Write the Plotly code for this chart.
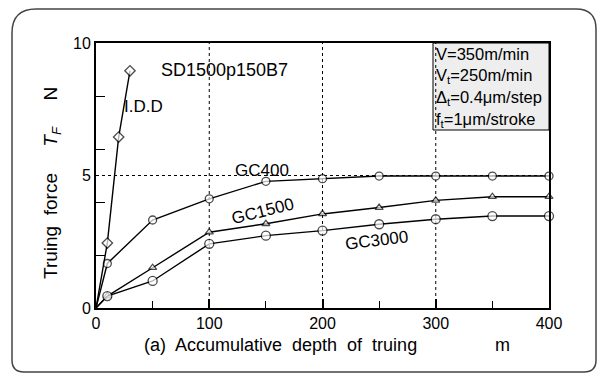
import plotly.graph_objects as go

# data
sd_x = [0, 10, 20, 30]
sd_y = [0, 2.45, 6.45, 8.95]
gc400_x = [0, 10, 50, 100, 150, 200, 250, 300, 350, 400]
gc400_y = [0, 1.68, 3.32, 4.12, 4.78, 4.88, 4.98, 4.98, 4.98, 4.98]
gc1500_x = [0, 10, 50, 100, 150, 200, 250, 300, 350, 400]
gc1500_y = [0, 0.45, 1.52, 2.86, 3.18, 3.55, 3.79, 4.06, 4.2, 4.2]
gc3000_x = [0, 10, 50, 100, 150, 200, 250, 300, 350, 400]
gc3000_y = [0, 0.45, 1.02, 2.42, 2.73, 2.92, 3.16, 3.35, 3.47, 3.47]
info_lines = ["V=350m/min", "V<sub>t</sub>=250m/min",
              "Δ<sub>t</sub>=0.4μm/step", "f<sub>t</sub>=1μm/stroke"]

FONT = "Liberation Sans, Arial, sans-serif"

fig = go.Figure()

def add(x, y, sym, size, name):
    sizes = [0] + [size] * (len(x) - 1)  # no marker at origin
    fig.add_trace(go.Scatter(
        x=x, y=y, mode="lines+markers", name=name,
        line=dict(color="black", width=1.4),
        marker=dict(symbol=sym, size=sizes, color="white",
                    line=dict(color="black", width=1.3)),
        showlegend=False, cliponaxis=False))

add(gc1500_x, gc1500_y, "triangle-up", 7, "GC1500")
add(gc3000_x, gc3000_y, "circle", 9, "GC3000")
add(gc400_x, gc400_y, "circle", 8, "GC400")
add(sd_x, sd_y, "diamond", 8, "SD1500p150B7")

W, H = 605, 377
L, R, T, B = 96, 56, 43, 69
pw, ph = W - L - R, H - T - B

def px(xp):
    return (xp - L) / pw

def py(yp):
    return (H - B - yp) / ph

# rounded outer frame
x0, x1, y0, y1 = 12, 596, 9, 372
rtl, rtr, rb = 24, 20, 12
path = (f"M {px(x0)},{py(y0 + rtl)} Q {px(x0)},{py(y0)} {px(x0 + rtl)},{py(y0)} "
        f"L {px(x1 - rtr)},{py(y0)} Q {px(x1)},{py(y0)} {px(x1)},{py(y0 + rtr)} "
        f"L {px(x1)},{py(y1 - rb)} Q {px(x1)},{py(y1)} {px(x1 - rb)},{py(y1)} "
        f"L {px(x0 + rb)},{py(y1)} Q {px(x0)},{py(y1)} {px(x0)},{py(y1 - rb)} Z")

shapes = [
    dict(type="path", xref="paper", yref="paper", path=path,
         line=dict(color="#444", width=1.5), layer="below"),
    dict(type="rect", xref="paper", yref="paper",
         x0=px(433), x1=1, y0=py(130), y1=1,
         line=dict(color="black", width=1), fillcolor="#eeeeee", layer="below"),
]
for xv in [100, 200, 300]:
    shapes.append(dict(type="line", xref="x", yref="paper", x0=xv, x1=xv, y0=0, y1=1,
                       line=dict(color="black", width=1, dash="dot"), layer="below"))
shapes.append(dict(type="line", xref="paper", yref="y", x0=0, x1=1, y0=5, y1=5,
                   line=dict(color="black", width=1, dash="dot"), layer="below"))

def ann(xp, yp, text, size=17, anchor="left", angle=0):
    return dict(x=px(xp), y=py(yp), xref="paper", yref="paper", text=text,
                showarrow=False, xanchor=anchor, yanchor="middle",
                textangle=angle, font=dict(size=size))

annotations = [
    ann(159, 70, "SD1500p150B7", 18),
    ann(122, 107, "I.D.D", 17),
    ann(233, 170, "GC400", 17),
    ann(262, 211, "GC1500", 17, "center", -14),
    ann(376, 240, "GC3000", 17, "center", -7),
    ann(142, 345, "(a)  Accumulative  depth  of  truing", 18),
    ann(502, 345, "m", 18, "center"),
    ann(52, 183, "Truing  force     <i>T</i><sub><i>F</i></sub>     N", 19, "center", -90),
]
for i, t in enumerate(info_lines):
    annotations.append(ann(434, 54 + i * 22, t, 16.5))

fig.update_layout(
    width=W, height=H,
    margin=dict(l=L, r=R, t=T, b=B),
    paper_bgcolor="white", plot_bgcolor="white",
    font=dict(family=FONT, color="black", size=16),
    shapes=shapes, annotations=annotations,
    xaxis=dict(range=[0, 400], tickvals=[0, 100, 200, 300, 400],
               ticks="inside", ticklen=9, tickwidth=1.5, tickcolor="black",
               minor=dict(tickvals=[50, 150, 250, 350], ticks="inside", ticklen=7,
                          tickwidth=1.2, tickcolor="black"),
               showgrid=False, zeroline=False, showline=True, linecolor="black",
               linewidth=2, mirror=True, tickfont=dict(size=16)),
    yaxis=dict(range=[0, 10], tickvals=[0, 5, 10], ticks="",
               minor=dict(tickvals=[2, 4, 6, 8], ticks="inside", ticklen=9,
                          tickwidth=1.2, tickcolor="black"),
               showgrid=False, zeroline=False, showline=True, linecolor="black",
               linewidth=2, mirror=True, tickfont=dict(size=16)),
)

fig.write_html("out.html")
